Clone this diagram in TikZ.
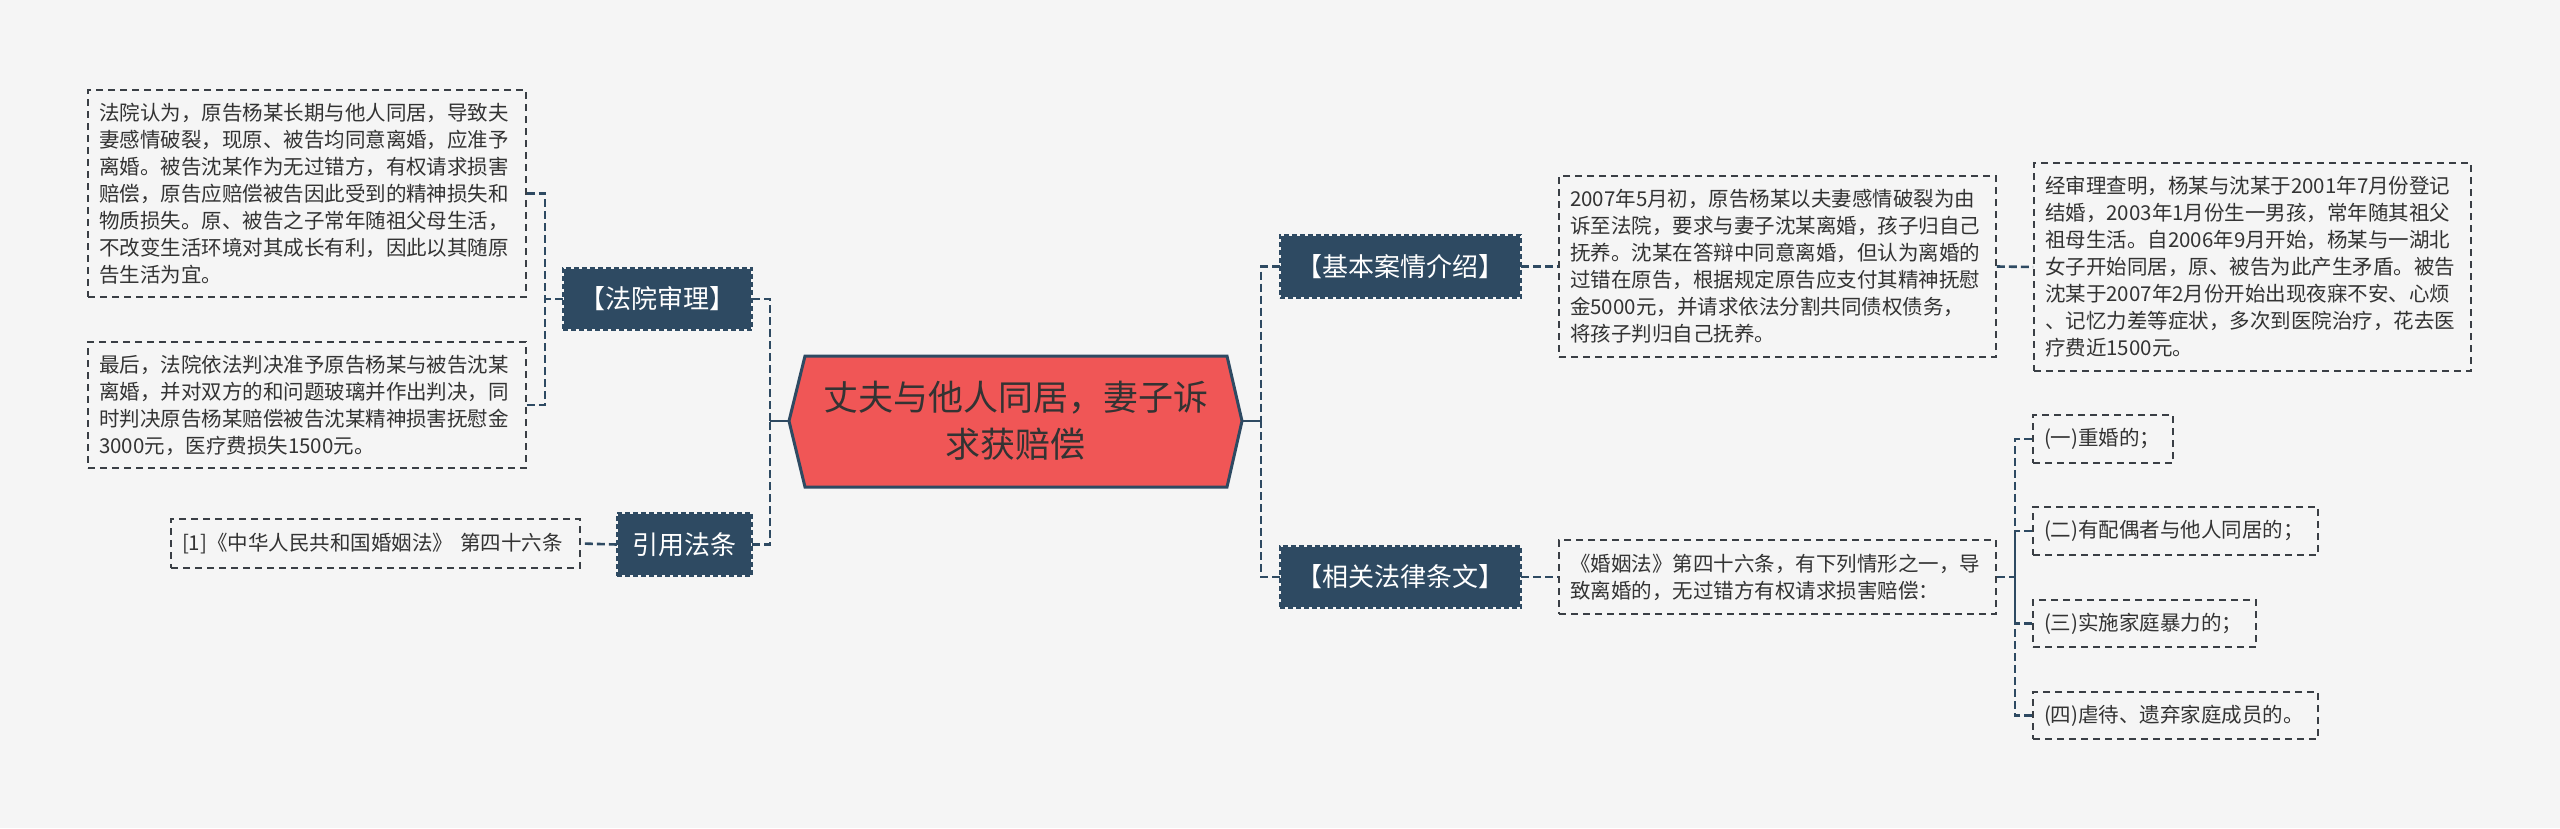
\documentclass[tikz,border=0pt]{standalone}
\usepackage{fontspec}
\setmainfont{Noto Sans CJK SC}
\definecolor{bgc}{HTML}{F5F5F5}
\definecolor{dark}{HTML}{2E4A62}
\definecolor{redfill}{HTML}{F05656}
\definecolor{txt}{HTML}{333333}
\definecolor{boxline}{HTML}{3A3F45}
\begin{document}
\begin{tikzpicture}[x=1pt,y=-1pt,
 tbox/.style={draw=boxline, line width=1.6pt, dash pattern=on 7pt off 5pt, inner xsep=11pt, inner ysep=0pt, align=left, text=txt, font=\fontsize{20.5}{27}\selectfont},
 dbox/.style={fill=dark, text=white, inner sep=0pt, align=center, font=\fontsize{26}{30}\selectfont, postaction={draw=bgc, line width=1.6pt}, postaction={draw=dark, line width=1.6pt, dash pattern=on 5pt off 3pt}},
 conn/.style={draw=dark, line width=2.6pt, dash pattern=on 8pt off 4pt},
 solidconn/.style={draw=dark, line width=2.6pt},
]
\useasboundingbox (0,0) rectangle (2560,828);
\fill[bgc] (0,0) rectangle (2560,828);

% central hexagon
\filldraw[fill=redfill, draw=dark, line width=3pt, line join=miter]
  (789,421) -- (805,356) -- (1227,356) -- (1242,421) -- (1227,487) -- (805,487) -- cycle;
\node[align=center, text=txt, font=\fontsize{35}{47}\selectfont, inner sep=0pt] (ctr) at (1015.5,421) {丈夫与他人同居，妻子诉\\求获赔偿};
\coordinate (cL) at (789,421);
\coordinate (cR) at (1242,421);
\coordinate (busL) at (770,421);
\coordinate (busR) at (1261,421);

% dark boxes
\node[dbox, minimum width=189pt, minimum height=62pt] (fy) at (657.5,299) {【法院审理】};
\node[dbox, minimum width=135pt, minimum height=63pt] (yy) at (684.5,544.5) {引用法条};
\node[dbox, minimum width=241pt, minimum height=63pt] (jb) at (1400.5,266.5) {【基本案情介绍】};
\node[dbox, minimum width=241pt, minimum height=62pt] (xg) at (1400.5,577) {【相关法律条文】};

% text boxes
\node[tbox, text width=416pt, minimum height=207pt] (A) at (307,193.5) {法院认为，原告杨某长期与他人同居，导致夫\\妻感情破裂，现原、被告均同意离婚，应准予\\离婚。被告沈某作为无过错方，有权请求损害\\赔偿，原告应赔偿被告因此受到的精神损失和\\物质损失。原、被告之子常年随祖父母生活，\\不改变生活环境对其成长有利，因此以其随原\\告生活为宜。};
\node[tbox, text width=416pt, minimum height=126pt] (B) at (307,405) {最后，法院依法判决准予原告杨某与被告沈某\\离婚，并对双方的和问题玻璃并作出判决，同\\时判决原告杨某赔偿被告沈某精神损害抚慰金\\3000元，医疗费损失1500元。};
\node[tbox, text width=387pt, minimum height=49pt] (cite) at (375.5,543.5) {[1]《中华人民共和国婚姻法》~第四十六条};
\node[tbox, text width=415pt, minimum height=181pt] (b2007) at (1777.5,266.5) {2007年5月初，原告杨某以夫妻感情破裂为由\\诉至法院，要求与妻子沈某离婚，孩子归自己\\抚养。沈某在答辩中同意离婚，但认为离婚的\\过错在原告，根据规定原告应支付其精神抚慰\\金5000元，并请求依法分割共同债权债务，\\将孩子判归自己抚养。};
\node[tbox, text width=415pt, minimum height=208pt] (jsl) at (2252.5,267) {经审理查明，杨某与沈某于2001年7月份登记\\结婚，2003年1月份生一男孩，常年随其祖父\\祖母生活。自2006年9月开始，杨某与一湖北\\女子开始同居，原、被告为此产生矛盾。被告\\沈某于2007年2月份开始出现夜寐不安、心烦\\、记忆力差等症状，多次到医院治疗，花去医\\疗费近1500元。};
\node[tbox, text width=415pt, minimum height=74pt] (hyf) at (1777.5,577) {《婚姻法》第四十六条，有下列情形之一，导\\致离婚的，无过错方有权请求损害赔偿：};
\node[tbox, text width=118pt, minimum height=48pt] (i1) at (2103,439) {(一)重婚的；};
\node[tbox, text width=263pt, minimum height=48pt] (i2) at (2175.5,531) {(二)有配偶者与他人同居的；};
\node[tbox, text width=201pt, minimum height=47pt] (i3) at (2144.5,623.5) {(三)实施家庭暴力的；};
\node[tbox, text width=263pt, minimum height=47pt] (i4) at (2175.5,715.5) {(四)虐待、遗弃家庭成员的。};

\coordinate (busFY) at (545,299);
\coordinate (busI) at (2015,577);

% connectors left
\draw[solidconn] (cL) -- (busL);
\draw[conn] (fy.east) -| (busL);
\draw[conn] (yy.east) -| (busL);
\draw[conn] (fy.west) -- (busFY);
\draw[conn] (A.east) -| (busFY);
\draw[conn] (B.east) -| (busFY);
\draw[conn] (yy.west) -- (cite.east);

% connectors right
\draw[solidconn] (cR) -- (busR);
\draw[conn] (jb.west) -| (busR);
\draw[conn] (xg.west) -| (busR);
\draw[conn] (jb.east) -- (b2007.west);
\draw[conn] (b2007.east) -- (jsl.west);
\draw[conn] (xg.east) -- (hyf.west);
\draw[conn] (hyf.east) -- (busI);
\draw[conn] (i1.west) -| (busI);
\draw[conn] (i2.west) -| (busI);
\draw[conn] (i3.west) -| (busI);
\draw[conn] (i4.west) -| (busI);
\end{tikzpicture}
\end{document}
